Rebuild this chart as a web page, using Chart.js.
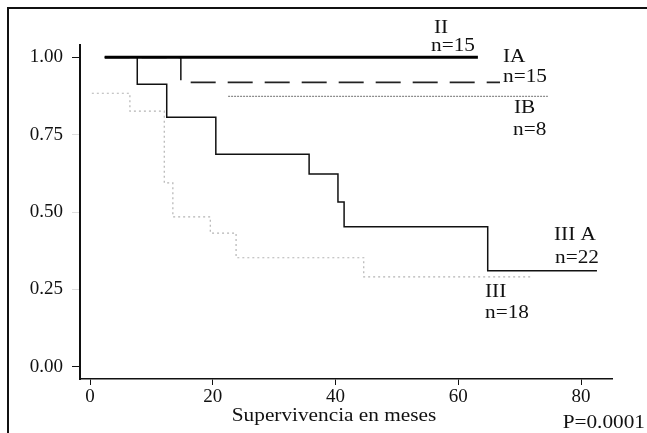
<!DOCTYPE html>
<html>
<head>
<meta charset="utf-8">
<script src="https://cdn.jsdelivr.net/npm/chart.js@4.4.1/dist/chart.umd.min.js"></script>
<style>
  html, body { margin: 0; padding: 0; background: #fff; }
  #wrap { width: 647px; height: 433px; }
</style>
</head>
<body>
<div id="wrap"><canvas id="km" width="647" height="433"></canvas></div>
<script>
// Survival curves (months, proportion surviving)
var monthsII = [2.4, 63.2];
var survII = [1.0, 1.0];

var monthsIA = [2.4, 14.8, 66.8];
var survIA = [1.0, 0.919, 0.919];

var monthsIB = [22.5, 74.6];
var survIB = [0.874, 0.874];

var monthsIIIA = [2.4, 7.7, 12.5, 20.5, 35.7, 40.4, 41.4, 64.8, 82.6];
var survIIIA = [1.0, 0.913, 0.806, 0.687, 0.623, 0.532, 0.452, 0.310, 0.310];

var monthsIII = [0.3, 6.5, 12.1, 13.5, 19.6, 23.8, 44.6, 72.2];
var survIII = [0.884, 0.826, 0.594, 0.484, 0.432, 0.352, 0.290, 0.290];

var xTickValues = [0, 20, 40, 60, 80];
var yTickValues = [0, 0.25, 0.5, 0.75, 1.0];

var xTitle = "Supervivencia en meses";
var pValue = "P=0.0001";

// curve labels: text, left x, baseline y (px)
var curveLabels = [
	["II", 434, 33],
	["n=15", 431, 51],
	["IA", 503, 62],
	["n=15", 503, 82],
	["IB", 514, 113],
	["n=8", 513, 135],
	["III A", 554, 240],
	["n=22", 555, 263],
	["III", 485, 297],
	["n=18", 485, 318]
];

var serif = "'Liberation Serif', 'Times New Roman', serif";
var stretch = 1.12; // the scanned type is a bit wider than Times

function pts(xs, ys) {
	var out = [];
	for (var i = 0; i < xs.length; i++) out.push({ x: xs[i], y: ys[i] });
	return out;
}

function curve(label, xs, ys, color, width, dash) {
	return {
		label: label,
		data: pts(xs, ys),
		borderColor: color,
		borderWidth: width,
		borderDash: dash || [],
		stepped: 'before',
		pointRadius: 0,
		fill: false
	};
}

function wideText(ctx, text, x, y, align) {
	var w = ctx.measureText(text).width * stretch;
	var left = x;
	if (align === 'center') left = x - w / 2;
	if (align === 'right') left = x - w;
	ctx.save();
	ctx.translate(left, y);
	ctx.scale(stretch, 1);
	ctx.textAlign = 'left';
	ctx.fillText(text, 0, 0);
	ctx.restore();
}

// frame, titles and curve labels
var decorations = {
	id: 'decorations',
	beforeDraw: function (chart) {
		var ctx = chart.ctx;
		ctx.save();
		ctx.fillStyle = '#fff';
		ctx.fillRect(0, 0, chart.width, chart.height);
		ctx.fillStyle = '#111';
		ctx.fillRect(7, 7, chart.width - 7, 2);
		ctx.fillRect(7, 7, 2, chart.height - 7);
		ctx.restore();
	},
	afterDraw: function (chart) {
		var ctx = chart.ctx;
		ctx.save();
		ctx.fillStyle = '#111';
		ctx.font = '19px ' + serif;
		ctx.textBaseline = 'alphabetic';
		curveLabels.forEach(function (l) { wideText(ctx, l[0], l[1], l[2], 'left'); });
		wideText(ctx, xTitle, 334, 421, 'center');
		wideText(ctx, pValue, 645, 428, 'right');
		ctx.restore();
	}
};

new Chart(document.getElementById('km'), {
	type: 'line',
	data: {
		datasets: [
			curve('II', monthsII, survII, '#000', 3),
			curve('IIIA', monthsIIIA, survIIIA, '#111', 1.5),
			curve('IA', monthsIA, survIA, '#222', 1.6, [25, 12]),
			curve('IB', monthsIB, survIB, '#8c8c8c', 1.3, [2, 1]),
			curve('III', monthsIII, survIII, '#b4b4b4', 1.2, [2, 3])
		]
	},
	options: {
		responsive: false,
		animation: false,
		layout: { padding: { top: 45, right: 35, left: 0, bottom: 0 } },
		plugins: {
			legend: { display: false },
			tooltip: { enabled: false }
		},
		scales: {
			x: {
				type: 'linear',
				min: -1.63,
				max: 85.05,
				afterFit: function (s) { s.height = 54; },
				afterBuildTicks: function (s) {
					s.ticks = xTickValues.map(function (v) { return { value: v }; });
				},
				border: { color: '#111', width: 1.5 },
				grid: { drawOnChartArea: false, drawTicks: true, tickLength: 6, color: '#111' },
				ticks: {
					padding: 1,
					color: '#111',
					font: { family: serif, size: 19 },
					callback: function (v) { return String(v); }
				}
			},
			y: {
				type: 'linear',
				min: -0.04,
				max: 1.04,
				afterFit: function (s) { s.width = 80; },
				afterBuildTicks: function (s) {
					s.ticks = yTickValues.map(function (v) { return { value: v }; });
				},
				border: { color: '#111', width: 2 },
				grid: {
					drawOnChartArea: false,
					drawTicks: true,
					tickLength: 8,
					tickColor: function (c) {
						return (c.tick && (c.tick.value === 0 || c.tick.value === 1)) ? '#111' : '#ddd';
					}
				},
				ticks: {
					padding: 9,
					color: '#111',
					font: { family: serif, size: 19 },
					callback: function (v) { return Number(v).toFixed(2); }
				}
			}
		}
	},
	plugins: [decorations]
});
</script>
</body>
</html>
